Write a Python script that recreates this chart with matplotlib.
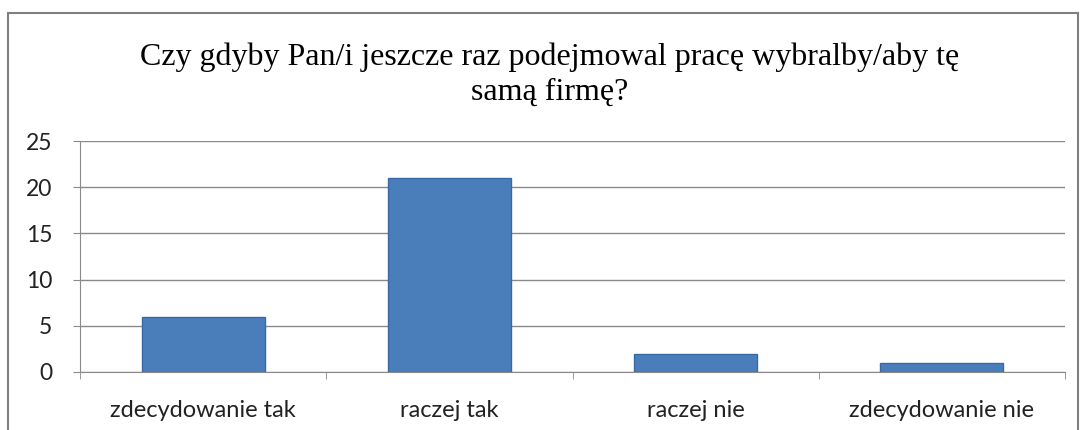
import numpy as np
import matplotlib.pyplot as plt
from matplotlib.patches import Rectangle

# --- data ---
categories = ['zdecydowanie tak', 'raczej tak', 'raczej nie', 'zdecydowanie nie']
values = [6, 21, 2, 1]
yticks = [0, 5, 10, 15, 20, 25]
title = 'Czy gdyby Pan/i jeszcze raz podejmowal pracę wybralby/aby tę\nsamą firmę?'

bar_color = '#4a7ebb'
W, H = 1082, 430

fig = plt.figure(figsize=(W / 100, H / 100), dpi=100)
ax = fig.add_axes([80 / W, 1 - 372 / H, (1065 - 80) / W, (372 - 141) / H])

x = np.arange(len(categories))
ax.bar(x, values, width=0.5, color=bar_color, edgecolor='#3a6aa5', linewidth=1, zorder=3)

ax.set_xlim(-0.5, len(categories) - 0.5)
ax.set_ylim(0, 25)
ax.set_yticks(yticks)
ax.set_yticklabels([str(v) for v in yticks], fontsize=16.5, family='Lato', color='#222222')
ax.yaxis.grid(True, color='#8a8a8a', lw=1, zorder=0)

ax.set_xticks(x)
ax.set_xticklabels(categories, fontsize=17, family='Lato', color='#222222')
ax.tick_params(axis='x', length=0, pad=20)
ax.tick_params(axis='y', length=5, color='#8a8a8a', pad=15)
# tick marks between categories
ax.set_xticks(np.arange(-0.5, len(categories)), minor=True)
ax.tick_params(axis='x', which='minor', length=5, color='#8a8a8a')

for side in ['top', 'right']:
    ax.spines[side].set_visible(False)
ax.spines['left'].set_color('#8a8a8a')
ax.spines['bottom'].set_color('#8a8a8a')

fig.text(0.5 * (140 + 960) / W, 1 - 75 / H, title, ha='center', va='center',
         fontsize=23, family='Liberation Serif', linespacing=1.25)

# outer frame
fig.patches.append(Rectangle((8 / W, -0.1), (1078 - 8) / W, 1 - 13 / H + 0.1,
                             transform=fig.transFigure, fill=False,
                             edgecolor='#7f7f7f', lw=1.5))

fig.savefig('out.png', dpi=100)
